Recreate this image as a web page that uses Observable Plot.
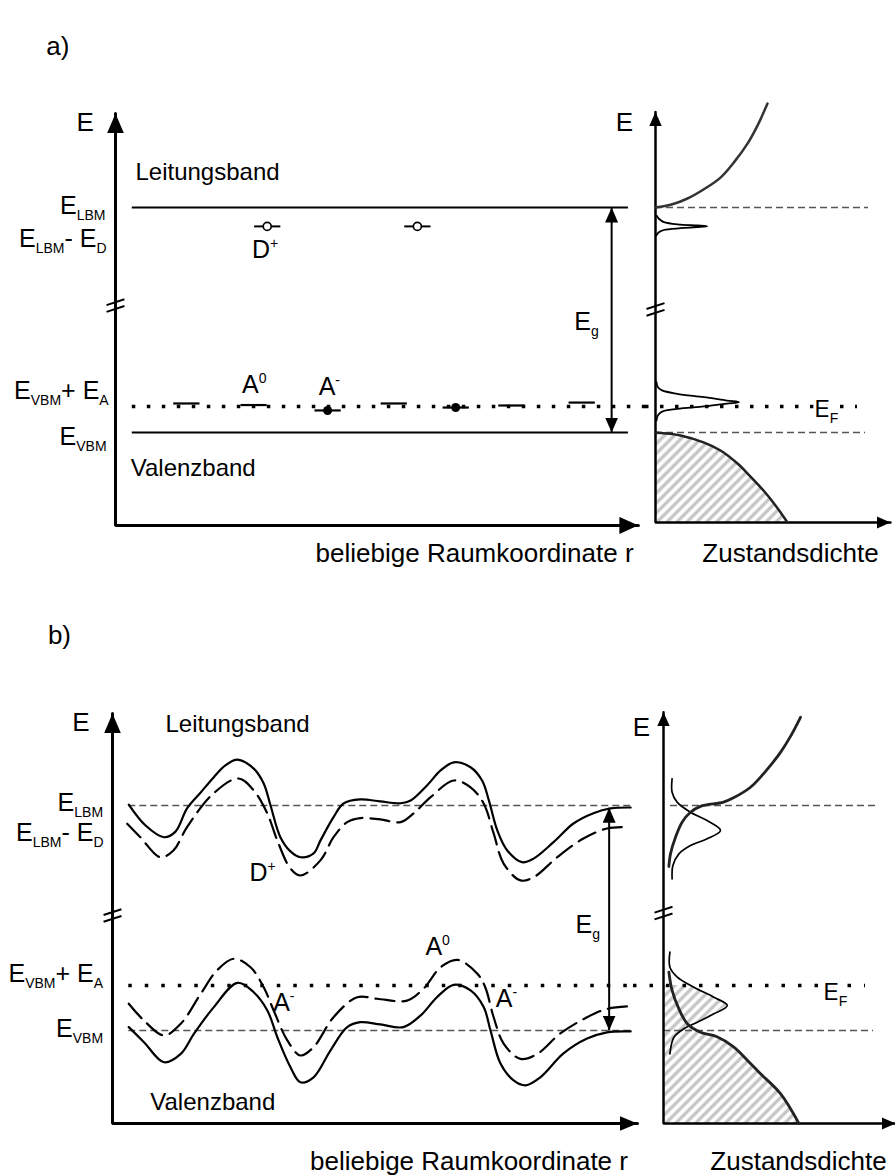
<!DOCTYPE html>
<html>
<head>
<meta charset="utf-8">
<script src="https://cdn.jsdelivr.net/npm/d3@7"></script>
<script src="https://cdn.jsdelivr.net/npm/@observablehq/plot@0.6"></script>
<style>
  html, body { margin: 0; padding: 0; background: #fff; }
  #fig { position: relative; width: 895px; height: 1176px; overflow: hidden; background: #fff; }
  #fig svg { position: absolute; overflow: visible; max-width: none; }
</style>
</head>
<body>
<div id="fig"></div>
<script>
// ---------- DATA (r: arbitrary space coordinate, E: energy units with E_VBM = 0, E_LBM = 10, d: density of states) ----------

// Panel a) — flat bands
const bandEdgesA   = [{E: 10, r1: 0.32, r2: 9.77}, {E: 0, r1: 0.32, r2: 9.77}];
const donorsA      = [{r: 2.89, E: 9.16}, {r: 5.75, E: 9.16}];
const acceptorsA   = [
  {r: 1.35, E: 1.29, occ: false}, {r: 2.63, E: 1.22, occ: false}, {r: 4.04, E: 0.98, occ: true},
  {r: 5.30, E: 1.29, occ: false}, {r: 6.48, E: 1.11, occ: true},  {r: 7.54, E: 1.20, occ: false},
  {r: 8.88, E: 1.33, occ: false}
];
const fermiA       = [{E: 1.16, r1: 0.32, r2: 10.2}];
const gapA         = [{r: 9.45, E1: 0, E2: 10}];
const axisLeftA    = [[0, 14.18], [0, -4.13], [9.96, -4.13]];
const breakLeftA   = [{x: 0, E: 5.64}];

const axisRightA   = [[0, 14.24], [0, -4.0], [11.75, -4.0]];
const dosCondA     = [[0, 10], [0.8, 10.13], [1.6, 10.4], [2.4, 10.8], [3.25, 11.33], [3.95, 12.04], [4.6, 12.84], [5.1, 13.64], [5.6, 14.62]];
const dosDonorA    = [[0.05, 9.64], [0.17, 9.5], [0.42, 9.35], [1.25, 9.24], [2.08, 9.2], [2.58, 9.17], [2.08, 9.13], [1.25, 9.08], [0.42, 9.0], [0.17, 8.9], [0.05, 8.76]];
const dosAcceptorA = [[0.05, 2.24], [0.12, 2.01], [0.33, 1.87], [1.08, 1.72], [2.42, 1.57], [3.58, 1.42], [4.17, 1.35], [3.58, 1.28], [2.42, 1.16], [1.08, 1.05], [0.33, 0.93], [0.12, 0.76], [0.05, 0.53]];
const dosValA      = [[0, 0], [1.25, -0.13], [2.4, -0.44], [3.25, -0.8], [4.1, -1.38], [4.75, -1.96], [5.4, -2.58], [6.0, -3.24], [6.6, -4.0]];
const refLinesA    = [{E: 10, d1: 0, d2: 10.65}, {E: 0, d1: 0, d2: 10.5}];
const fermiRightA  = [{E: 1.16, d1: -0.5, d2: 10.1}];
const breakRightA  = [{x: 0, E: 5.47}];

// Panel b) — fluctuating bands
const condSolidB = [[0.31,10.04],[0.63,9.11],[0.98,8.59],[1.2,8.84],[1.42,9.87],[1.68,10.58],[1.93,11.26],[2.15,11.78],[2.38,12.04],[2.69,11.64],[2.88,10.98],[3.01,10.0],[3.2,8.58],[3.39,7.96],[3.58,7.7],[3.83,7.87],[3.96,8.44],[4.21,9.48],[4.4,10.09],[4.72,10.27],[5.1,10.18],[5.49,10.1],[5.68,10.22],[5.99,10.89],[6.25,11.56],[6.5,11.92],[6.82,11.7],[7.04,11.11],[7.17,10.22],[7.33,8.89],[7.52,8.0],[7.8,7.48],[8.02,7.64],[8.4,8.37],[8.78,9.2],[9.16,9.66],[9.49,9.87],[9.87,9.91]];
const condDashedB = [[0.28,9.19],[0.53,8.59],[0.91,7.7],[1.16,8.0],[1.42,9.04],[1.92,10.53],[2.4,11.2],[2.69,10.67],[2.95,9.64],[3.14,8.44],[3.39,7.2],[3.58,6.89],[3.96,7.56],[4.21,8.59],[4.47,9.26],[4.72,9.44],[5.1,9.38],[5.49,9.26],[5.73,9.64],[6.06,10.37],[6.5,11.11],[6.82,10.81],[7.07,10.09],[7.26,8.76],[7.45,7.42],[7.77,6.67],[8.02,6.81],[8.47,7.7],[8.97,8.53],[9.42,8.98],[9.77,9.04]];
const valSolidB = [[0.31,0.15],[0.6,-0.52],[0.98,-1.41],[1.3,-1.04],[1.55,-0.15],[1.93,1.04],[2.38,2.12],[2.69,1.7],[2.95,0.89],[3.14,-0.3],[3.39,-1.63],[3.58,-2.3],[3.83,-2.08],[4.15,-0.89],[4.47,0.15],[4.72,0.37],[5.1,0.27],[5.54,0.15],[5.87,0.67],[6.18,1.48],[6.5,2.03],[6.82,1.78],[7.07,1.04],[7.2,0.0],[7.39,-1.47],[7.64,-2.22],[7.87,-2.44],[8.15,-2.08],[8.59,-1.02],[9.04,-0.36],[9.42,-0.08],[9.87,-0.04]];
const valDashedB = [[0.31,1.19],[0.6,0.44],[0.98,-0.22],[1.3,0.3],[1.68,1.63],[1.99,2.67],[2.31,3.19],[2.63,2.81],[2.88,1.92],[3.07,0.89],[3.33,-0.44],[3.58,-1.11],[3.83,-0.74],[4.21,0.59],[4.66,1.48],[5.04,1.41],[5.61,1.33],[5.92,1.85],[6.25,2.81],[6.57,3.14],[6.95,2.52],[7.1,1.92],[7.26,0.59],[7.45,-0.58],[7.77,-1.26],[8.09,-1.04],[8.53,-0.13],[9.04,0.59],[9.42,0.96],[9.8,1.07]];
const refLinesB   = [{E: 10, r1: 0.31, r2: 9.87}, {E: 0, r1: 0.31, r2: 9.87}];
const fermiB      = [{E: 2.0, r1: 0.31, r2: 9.95}];
const gapB        = [{r: 9.46, E1: 0, E2: 9.9}];
const axisLeftB   = [[0, 14.09], [0, -4.13], [10.0, -4.13]];
const breakLeftB  = [{x: 0, E: 5.11}];

const axisRightB   = [[0, 14.15], [0, -4.13], [11.6, -4.13]];
const dosCondB     = [[0.27,7.29],[0.35,7.85],[0.6,8.59],[0.93,9.26],[1.35,9.7],[1.85,9.96],[3.0,10.15],[3.5,10.34],[4.35,10.81],[4.85,11.26],[5.35,11.78],[5.85,12.36],[6.35,13.07],[6.85,13.92]];
const dosDonorB    = [[0.43,11.19],[0.43,10.59],[0.68,10.15],[1.35,9.7],[2.18,9.33],[2.85,8.89],[2.18,8.52],[1.35,8.22],[0.77,7.85],[0.47,7.33],[0.43,6.74]];
const dosAcceptorB = [[0.32,3.48],[0.32,2.81],[0.69,2.37],[1.52,1.92],[2.52,1.48],[3.19,1.11],[2.52,0.74],[1.69,0.37],[1.02,0.08],[0.52,-0.3],[0.32,-1.04]];
const dosValB      = [[0.27,2.59],[0.43,1.78],[0.77,0.96],[1.19,0.3],[1.85,-0.08],[2.65,-0.27],[3.52,-0.74],[4.25,-1.38],[4.85,-1.92],[5.85,-2.81],[6.77,-4.13]];
const occupiedB    = [[1.45,2.0],[1.52,1.92],[2.52,1.48],[3.19,1.11],[2.52,0.74],[1.69,0.37],[1.2,0.2],[1.85,-0.08],[2.65,-0.27],[3.52,-0.74],[4.25,-1.38],[4.85,-1.92],[5.85,-2.81],[6.77,-4.13]];
const refLinesRB   = [{E: 10, d1: 0.35, d2: 10.75}, {E: 0, d1: 0, d2: 10.5}];
const fermiRightB  = [{E: 2.0, d1: -1.5, d2: 10.1}];
const breakRightB  = [{x: 0, E: 5.22}];

// Labels
const panelLabelA  = [{x: -1.1, E: 17.16, t: "a)"}];
const panelLabelB  = [{x: -1.01, E: 17.56, t: "b)"}];
const energyLabelsA = [{x: -0.19, E: 10.06, t: "E_{LBM}"}, {x: -0.17, E: 8.58, t: "E_{LBM}- E_{D}"}, {x: -0.13, E: 1.83, t: "E_{VBM}+ E_{A}"}, {x: -0.17, E: -0.21, t: "E_{VBM}"}];
const bandNamesA   = [{x: 0.38, E: 11.57, t: "Leitungsband"}, {x: 0.29, E: -1.61, t: "Valenzband"}];
const stateLabelsA = [{x: 2.6, E: 8.13, t: "D^{+}"}, {x: 2.41, E: 2.09, t: "A^{0}"}, {x: 3.87, E: 2.02, t: "A^{-}"}, {x: 8.74, E: 4.9, t: "E_{g}"}];
const axisTitlesLA = [{x: -0.58, E: 13.76, t: "E"}, {x: 6.84, E: -5.38, t: "beliebige Raumkoordinate r"}];
const axisTitlesRA = [{x: -1.55, E: 13.75, t: "E"}, {x: 6.75, E: -5.38, t: "Zustandsdichte"}];
const fermiLabelA  = [{x: 7.95, E: 1.0, t: "E_{F}"}];

const energyLabelsB = [{x: -0.18, E: 10.11, t: "E_{LBM}"}, {x: -0.17, E: 8.78, t: "E_{LBM}- E_{D}"}, {x: -0.18, E: 2.49, t: "E_{VBM}+ E_{A}"}, {x: -0.18, E: 0.07, t: "E_{VBM}"}];
const bandNamesB   = [{x: 1.01, E: 13.63, t: "Leitungsband"}, {x: 0.72, E: -3.19, t: "Valenzband"}];
const stateLabelsB = [{x: 2.61, E: 7.0, t: "D^{+}"}, {x: 5.96, E: 3.7, t: "A^{0}"}, {x: 3.06, E: 1.22, t: "A^{-}"}, {x: 7.3, E: 1.38, t: "A^{-}"}, {x: 8.82, E: 4.67, t: "E_{g}"}];
const axisTitlesLB = [{x: -0.6, E: 13.67, t: "E"}, {x: 6.79, E: -5.85, t: "beliebige Raumkoordinate r"}];
const axisTitlesRB = [{x: -1.1, E: 13.48, t: "E"}, {x: 6.75, E: -5.85, t: "Zustandsdichte"}];
const fermiLabelB  = [{x: 8.0, E: 1.67, t: "E_{F}"}];

// ---------- HELPERS ----------
const FONT = "'Liberation Sans', Arial, Helvetica, sans-serif";
const NS = "http://www.w3.org/2000/svg";
const X = d => d[0], Y = d => d[1];

function head(len, wid, orient) {
  return (color, context) => {
    const doc = (context && context.document) || document;
    const m = doc.createElementNS(NS, "marker");
    m.setAttribute("viewBox", `0 ${-wid / 2} ${len} ${wid}`);
    m.setAttribute("refX", len);
    m.setAttribute("refY", 0);
    m.setAttribute("markerWidth", len);
    m.setAttribute("markerHeight", wid);
    m.setAttribute("markerUnits", "userSpaceOnUse");
    m.setAttribute("orient", orient);
    const p = doc.createElementNS(NS, "path");
    p.setAttribute("d", `M0,${-wid / 2}L${len},0L0,${wid / 2}Z`);
    p.setAttribute("fill", color);
    p.setAttribute("stroke", "none");
    m.appendChild(p);
    return m;
  };
}

function breakMarks(data, hx, hy, sep) {
  return Plot.link(data.flatMap(b => [b.E + sep / 2, b.E - sep / 2].map(e => ({x: b.x, E: e}))), {
    x1: d => d.x - hx, y1: d => d.E - hy, x2: d => d.x + hx, y2: d => d.E + hy,
    stroke: "black", strokeWidth: 2
  });
}

function labels(data, opts) {
  return Plot.text(data, {x: "x", y: "E", text: "t", fill: "black", ...opts});
}

function richText(svg) {
  svg.querySelectorAll("text").forEach(t => {
    const s = t.textContent;
    if (!/[_^]\{/.test(s)) return;
    while (t.firstChild) t.removeChild(t.firstChild);
    const re = /([_^])\{([^}]*)\}|([^_^]+)/g;
    let m, shift = 0;
    while ((m = re.exec(s)) !== null) {
      const ts = document.createElementNS(NS, "tspan");
      if (m[3] !== undefined) {
        ts.textContent = m[3];
        if (shift) ts.setAttribute("dy", -shift);
        shift = 0;
      } else {
        const d = m[1] === "_" ? 6 : -10;
        ts.textContent = m[2];
        ts.setAttribute("dy", d - shift);
        ts.setAttribute("font-size", "14");
        shift = d;
      }
      t.appendChild(ts);
    }
  });
}

function addHatch(svg, id) {
  const defs = document.createElementNS(NS, "defs");
  defs.innerHTML = `<pattern id="${id}" patternUnits="userSpaceOnUse" width="7" height="7" patternTransform="rotate(45)">
      <rect width="7" height="7" fill="white"/>
      <line x1="3.5" y1="-1" x2="3.5" y2="8" stroke="#c6c6c6" stroke-width="3.4"/>
    </pattern>`;
  svg.insertBefore(defs, svg.firstChild);
  svg.querySelectorAll('g[aria-label="area"] path').forEach(p => p.setAttribute("fill", `url(#${id})`));
}

function subplot({left, top, width, height, xr, yr, hatch}, marks) {
  const svg = Plot.plot({
    width, height, margin: 0,
    x: {domain: [0, 10], range: xr, axis: null},
    y: {domain: [0, 10], range: yr, axis: null},
    style: {background: "transparent", fontFamily: FONT, overflow: "visible"},
    marks
  });
  svg.style.left = left + "px";
  svg.style.top = top + "px";
  richText(svg);
  if (hatch) addHatch(svg, hatch);
  document.getElementById("fig").appendChild(svg);
}

const bigHeadStart = head(20, 17, "auto-start-reverse"), bigHeadEnd = head(19, 17, "auto");
const smallHeadStart = head(14, 12.5, "auto-start-reverse"), smallHeadEnd = head(14, 12.5, "auto");
const gapHeadStart = head(15, 13, "auto-start-reverse"), gapHeadEnd = head(15, 13, "auto");

const dotted = (w, gap) => ({stroke: "black", strokeWidth: w, strokeDasharray: `${w},${gap}`});

// ---------- PANEL a) left ----------
subplot({left: 0, top: 0, width: 650, height: 600, xr: [115, 640], yr: [432, 207]}, [
  Plot.line(axisLeftA, {x: X, y: Y, stroke: "black", strokeWidth: 3, strokeLinejoin: "miter", markerStart: bigHeadStart, markerEnd: bigHeadEnd}),
  breakMarks(breakLeftA, 0.17, 0.13, 0.3),
  Plot.ruleY(fermiA, {y: "E", x1: "r1", x2: "r2", ...dotted(3.5, 11.5)}),
  Plot.ruleY(bandEdgesA, {y: "E", x1: "r1", x2: "r2", stroke: "black", strokeWidth: 2}),
  Plot.link(acceptorsA, {x1: d => d.r - 0.25, x2: d => d.r + 0.25, y1: "E", y2: "E", stroke: "black", strokeWidth: 2.2}),
  Plot.dot(acceptorsA.filter(d => d.occ), {x: "r", y: "E", r: 4.5, fill: "black", stroke: "none"}),
  Plot.link(donorsA, {x1: d => d.r - 0.25, x2: d => d.r + 0.25, y1: "E", y2: "E", stroke: "black", strokeWidth: 2}),
  Plot.dot(donorsA, {x: "r", y: "E", r: 4, fill: "white", stroke: "black", strokeWidth: 1.7}),
  Plot.link(gapA, {x1: "r", x2: "r", y1: "E1", y2: "E2", stroke: "black", strokeWidth: 2, markerStart: gapHeadStart, markerEnd: gapHeadEnd}),
  labels(panelLabelA, {fontSize: 26}),
  labels(energyLabelsA, {fontSize: 25, textAnchor: "end"}),
  labels(bandNamesA, {fontSize: 24, textAnchor: "start"}),
  labels(stateLabelsA, {fontSize: 25, textAnchor: "start"}),
  labels(axisTitlesLA, {fontSize: 26})
]);

// ---------- PANEL a) right ----------
subplot({left: 600, top: 0, width: 295, height: 600, xr: [55, 255], yr: [432, 207], hatch: "hatchA"}, [
  Plot.areaX(dosValA, {x1: () => 0, x2: X, y: Y, fill: "#cccccc", curve: "catmull-rom"}),
  Plot.ruleY(refLinesA, {y: "E", x1: "d1", x2: "d2", stroke: "#555", strokeWidth: 1.3, strokeDasharray: "7,4"}),
  Plot.ruleY(fermiRightA, {y: "E", x1: "d1", x2: "d2", ...dotted(3.5, 11.5)}),
  Plot.line(axisRightA, {x: X, y: Y, stroke: "black", strokeWidth: 2.5, strokeLinejoin: "miter", markerStart: smallHeadStart, markerEnd: smallHeadEnd}),
  breakMarks(breakRightA, 0.45, 0.13, 0.3),
  Plot.line(dosCondA, {x: X, y: Y, stroke: "#333", strokeWidth: 2.5, curve: "catmull-rom"}),
  Plot.line(dosDonorA, {x: X, y: Y, stroke: "black", strokeWidth: 1.8, curve: "catmull-rom"}),
  Plot.line(dosAcceptorA, {x: X, y: Y, stroke: "black", strokeWidth: 1.8, curve: "catmull-rom"}),
  Plot.line(dosValA, {x: X, y: Y, stroke: "#222", strokeWidth: 2.5, curve: "catmull-rom"}),
  labels(fermiLabelA, {fontSize: 23, textAnchor: "start", stroke: "white", strokeWidth: 5}),
  labels(axisTitlesRA, {fontSize: 26})
]);

// ---------- PANEL b) left ----------
subplot({left: 0, top: 600, width: 650, height: 576, xr: [112, 637], yr: [430, 205]}, [
  Plot.line(axisLeftB, {x: X, y: Y, stroke: "black", strokeWidth: 3, strokeLinejoin: "miter", markerStart: bigHeadStart, markerEnd: head(18, 15, "auto")}),
  breakMarks(breakLeftB, 0.17, 0.13, 0.3),
  Plot.ruleY(refLinesB, {y: "E", x1: "r1", x2: "r2", stroke: "#555", strokeWidth: 1.3, strokeDasharray: "7,4"}),
  Plot.ruleY(fermiB, {y: "E", x1: "r1", x2: "r2", ...dotted(3.5, 13)}),
  Plot.line(condSolidB, {x: X, y: Y, stroke: "black", strokeWidth: 2.2, curve: "catmull-rom"}),
  Plot.line(condDashedB, {x: X, y: Y, stroke: "black", strokeWidth: 2.2, strokeDasharray: "19,8", curve: "catmull-rom"}),
  Plot.line(valSolidB, {x: X, y: Y, stroke: "black", strokeWidth: 2.2, curve: "catmull-rom"}),
  Plot.line(valDashedB, {x: X, y: Y, stroke: "black", strokeWidth: 2.2, strokeDasharray: "19,8", curve: "catmull-rom"}),
  Plot.link(gapB, {x1: "r", x2: "r", y1: "E1", y2: "E2", stroke: "black", strokeWidth: 2, markerStart: gapHeadStart, markerEnd: gapHeadEnd}),
  labels(panelLabelB, {fontSize: 26}),
  labels(energyLabelsB, {fontSize: 25, textAnchor: "end"}),
  labels(bandNamesB, {fontSize: 24, textAnchor: "start"}),
  labels(stateLabelsB, {fontSize: 25, textAnchor: "start"}),
  labels(axisTitlesLB, {fontSize: 26})
]);

// ---------- PANEL b) right ----------
subplot({left: 600, top: 600, width: 295, height: 576, xr: [63, 263], yr: [430, 205], hatch: "hatchB"}, [
  Plot.areaX(occupiedB, {x1: () => 0, x2: X, y: Y, fill: "#cccccc"}),
  Plot.ruleY(refLinesRB, {y: "E", x1: "d1", x2: "d2", stroke: "#555", strokeWidth: 1.3, strokeDasharray: "7,4"}),
  Plot.ruleY(fermiRightB, {y: "E", x1: "d1", x2: "d2", ...dotted(3.5, 13)}),
  Plot.line(axisRightB, {x: X, y: Y, stroke: "black", strokeWidth: 2.5, strokeLinejoin: "miter", markerStart: smallHeadStart, markerEnd: smallHeadEnd}),
  breakMarks(breakRightB, 0.45, 0.13, 0.3),
  Plot.line(dosDonorB, {x: X, y: Y, stroke: "black", strokeWidth: 1.7, curve: "catmull-rom"}),
  Plot.line(dosAcceptorB, {x: X, y: Y, stroke: "black", strokeWidth: 1.7, curve: "catmull-rom"}),
  Plot.line(dosCondB, {x: X, y: Y, stroke: "#222", strokeWidth: 2.8, curve: "catmull-rom"}),
  Plot.line(dosValB, {x: X, y: Y, stroke: "#222", strokeWidth: 2.8, curve: "catmull-rom"}),
  labels(fermiLabelB, {fontSize: 23, textAnchor: "start", stroke: "white", strokeWidth: 5}),
  labels(axisTitlesRB, {fontSize: 26})
]);
</script>
</body>
</html>
